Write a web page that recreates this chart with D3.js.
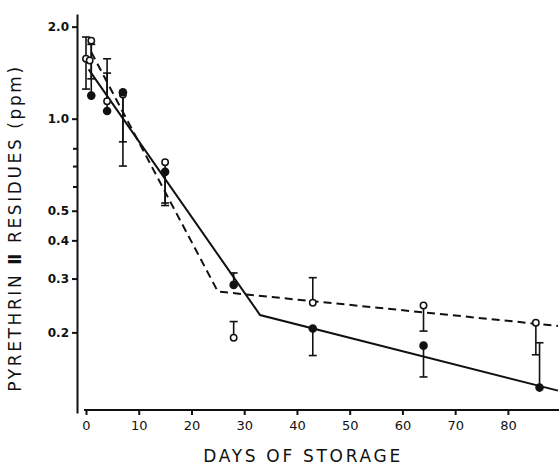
<!DOCTYPE html>
<meta charset="utf-8">
<style>
  body { margin: 0; background: #fff; }
  text { font-family: "DejaVu Sans", sans-serif; fill: #111; }
</style>
<div id="chart"></div>
<script src="https://d3js.org/d3.v7.min.js"></script>
<script>
// ---- data ----
// open circles (dashed fit): day, value, bar low, bar high
var openDays  = [0,    0.7,  1,    4,    7,    15,   28,    43,   64,    85.3];
var openVals  = [1.57, 1.55, 1.80, 1.14, 1.20, 0.72, 0.192, 0.25, 0.245, 0.215];
var openLo    = [1.25, 1.55, 1.35, 1.14, 0.84, 0.53, 0.192, 0.25, 0.202, 0.169];
var openHi    = [1.85, 1.55, 1.80, 1.57, 1.20, 0.72, 0.217, 0.302, 0.245, 0.215];

// filled circles (solid fit)
var fullDays  = [1,    4,    7,    15,   28,    43,    64,    86];
var fullVals  = [1.19, 1.06, 1.22, 0.67, 0.286, 0.206, 0.181, 0.132];
var fullLo    = [1.19, 1.06, 0.70, 0.52, 0.286, 0.168, 0.143, 0.132];
var fullHi    = [1.75, 1.41, 1.22, 0.67, 0.313, 0.206, 0.181, 0.185];

// fitted lines
var solidDays = [0.5, 33, 89.5];
var solidVals = [1.45, 0.228, 0.129];
var dashDays  = [1, 25, 89.5];
var dashVals  = [1.65, 0.272, 0.21];

var xTicks = [0, 10, 20, 30, 40, 50, 60, 70, 80];
var yTicks = [2.0, 1.0, 0.5, 0.4, 0.3, 0.2];
var yMinor = [0.8, 0.7, 0.6];

var W = 559, H = 465;
var svg = d3.select("#chart").append("svg")
    .attr("width", W).attr("height", H);

var x = d3.scaleLinear().domain([0, 89.5]).range([86, 558]);
var y = d3.scaleLog().domain([0.109, 2.2]).range([413, 14]);

// Y axis
var yAxis = svg.append("g")
    .attr("transform", "translate(77,0)")
    .call(d3.axisLeft(y).tickValues(yTicks).tickSize(5).tickPadding(3)
        .tickFormat(d3.format(".1f")).tickSizeOuter(0));
yAxis.selectAll("text").style("font-size", "12px").style("font-weight", "bold");
svg.append("g")
    .attr("transform", "translate(77,0)")
    .call(d3.axisLeft(y).tickValues(yMinor).tickSize(4).tickFormat(""))
    .select(".domain").remove();

// X axis
var xAxis = svg.append("g")
    .attr("transform", "translate(0,410)")
    .call(d3.axisBottom(x).tickValues(xTicks).tickSize(5).tickPadding(6).tickSizeOuter(0));
xAxis.selectAll("text").style("font-size", "13px");
xAxis.select(".domain").attr("d", "M84,0H559");

svg.selectAll(".domain, .tick line").attr("stroke", "#111").attr("stroke-width", 2);

// axis titles
svg.append("text")
    .attr("x", 303).attr("y", 462)
    .attr("text-anchor", "middle")
    .style("font-size", "17px").style("letter-spacing", "2.7px")
    .text("DAYS OF STORAGE");
var yt = svg.append("text")
    .attr("transform", "translate(21,228) rotate(-90)")
    .attr("text-anchor", "middle")
    .style("font-size", "17px").style("letter-spacing", "2.6px");
yt.append("tspan").text("PYRETHRIN ");
yt.append("tspan").style("font-weight", "bold").text("\u2161");
yt.append("tspan").text(" RESIDUES (ppm)");

// fitted lines
var line = d3.line().x(function(d) { return x(d[0]); }).y(function(d) { return y(d[1]); });
svg.append("path")
    .datum(d3.zip(solidDays, solidVals))
    .attr("d", line).attr("fill", "none").attr("stroke", "#111").attr("stroke-width", 2);
svg.append("path")
    .datum(d3.zip(dashDays, dashVals))
    .attr("d", line).attr("fill", "none").attr("stroke", "#111").attr("stroke-width", 2)
    .attr("stroke-dasharray", "8,5");

// error bars
function bars(days, vals, lo, hi) {
    var g = svg.append("g").attr("stroke", "#111").attr("stroke-width", 1.6);
    days.forEach(function(d, i) {
        if (lo[i] === hi[i]) return;
        var cx = x(d);
        g.append("line").attr("x1", cx).attr("x2", cx).attr("y1", y(lo[i])).attr("y2", y(hi[i]));
        [lo[i], hi[i]].forEach(function(v) {
            if (v === vals[i]) return;
            g.append("line").attr("x1", cx - 4).attr("x2", cx + 4).attr("y1", y(v)).attr("y2", y(v));
        });
    });
}
bars(openDays, openVals, openLo, openHi);
bars(fullDays, fullVals, fullLo, fullHi);

// points
svg.append("g").selectAll("circle")
    .data(d3.zip(openDays, openVals)).enter().append("circle")
    .attr("cx", function(d) { return x(d[0]); })
    .attr("cy", function(d) { return y(d[1]); })
    .attr("r", 3.2).attr("fill", "#fff").attr("stroke", "#111").attr("stroke-width", 1.5);
svg.append("g").selectAll("circle")
    .data(d3.zip(fullDays, fullVals)).enter().append("circle")
    .attr("cx", function(d) { return x(d[0]); })
    .attr("cy", function(d) { return y(d[1]); })
    .attr("r", 4.3).attr("fill", "#111");
</script>
